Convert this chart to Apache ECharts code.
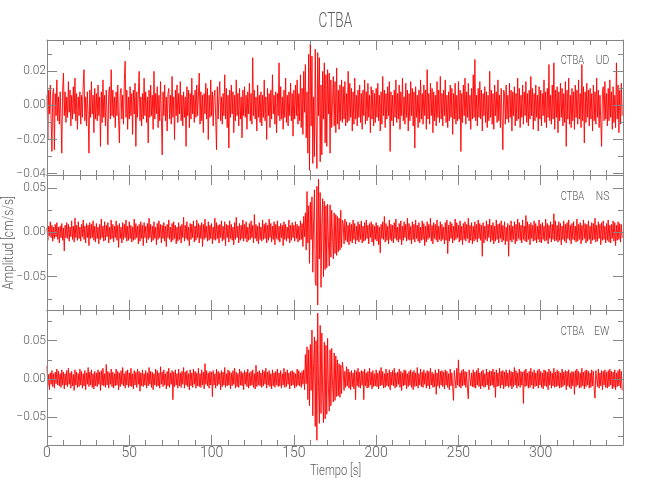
<!DOCTYPE html>
<html><head><meta charset="utf-8">
<script src="https://cdn.jsdelivr.net/npm/echarts@6/dist/echarts.min.js"></script>
<style>html,body{margin:0;padding:0;background:#fff}#c{width:650px;height:500px}</style>
</head><body><div id="c"></div>
<script>
const titleText = 'CTBA';
const stationName = 'CTBA';
const componentNames = ['UD', 'NS', 'EW'];
const xAxisTitle = 'Tiempo [s]';
const yAxisTitle = 'Amplitud [cm/s/s]';
const DT = 0.5;        // seconds between samples
const UNIT = 0.001;    // stored values are in 0.001 cm/s/s

const udMilli = [
6,-20,9,-5,12,-8,-27,7,10,-26,7,-6,15,-9,5,-11,8,-7,-28,9,
19,-6,8,-10,5,-7,14,-4,9,-12,6,-8,11,-5,16,-9,7,-14,5,-6,
8,-11,6,-7,12,21,-9,5,-12,8,-6,-28,9,-7,14,-5,6,-16,10,-8,
7,-9,12,-6,5,-24,8,-10,15,-7,6,-12,9,-5,-23,7,11,-8,21,-6,
9,-7,5,-13,8,-6,12,-9,-22,7,10,-8,6,-11,15,26,-7,9,-14,5,
-8,11,-6,7,-17,9,-5,13,-24,8,-7,6,20,-9,5,-12,7,-8,16,-6,
8,-10,5,-22,9,-7,12,-6,6,-14,20,-8,7,-5,11,-13,6,-9,14,-7,
-29,8,-6,12,-9,5,-15,7,10,-8,6,-11,17,-7,5,-20,9,-6,12,-10,
7,-5,14,-9,6,-12,8,-7,5,-24,11,-6,9,-13,7,-8,16,-5,6,-10,
9,-7,12,-6,5,19,-11,8,-9,6,-16,7,-5,13,-8,10,-20,6,-7,15,
-6,8,-12,5,9,-7,-26,11,-8,6,14,-9,5,-11,7,-6,18,-8,10,-13,
6,-25,9,-7,12,-5,8,-16,6,-9,15,-6,7,-12,10,-8,5,-19,9,-6,
11,-7,6,-14,8,-5,13,-9,7,-11,28,-6,9,-8,5,-15,12,-7,6,-10,
8,-12,6,-7,15,-9,5,-20,10,-6,7,-13,9,-8,18,-5,6,-11,8,-16,
7,-6,25,-9,11,-8,5,-14,9,-7,16,-10,6,-12,8,-6,13,-9,7,-18,
9,-8,12,-6,15,-11,7,-9,18,-13,10,-17,20,-4,24,-19,8,-28,30,-38,
36,-12,29,-34,5,-30,33,-9,-37,31,-6,28,-33,12,-29,20,-8,25,-22,18,
-24,21,-5,19,-28,15,-13,4,17,-12,14,-16,22,-11,9,-14,12,-9,15,-10,
11,-8,14,-12,7,-10,20,-9,13,-7,10,-15,8,-11,16,-8,6,-12,9,-7,
12,-10,7,-14,9,-6,15,-11,8,-9,13,-7,6,-16,11,-8,9,-12,7,-10,
10,-7,13,-9,6,-15,8,-11,17,-6,9,-13,7,-8,11,-6,14,-27,8,-9,
6,-12,9,-7,15,-10,7,-8,12,-14,8,-6,16,-9,5,-11,13,-7,9,-15,
7,-9,14,-6,10,-12,8,-25,11,-7,6,-13,9,-10,15,-8,7,-11,12,-6,
9,-14,21,-8,7,-11,13,-6,10,-16,8,-9,6,-12,14,-7,9,-10,17,-8,
7,-12,9,-6,15,-10,6,-13,8,-9,12,-7,10,-17,7,-8,13,-11,6,-9,
14,-8,9,-27,7,-10,12,-6,16,-11,8,-7,13,-9,6,-14,10,-8,18,-7,
27,-9,6,-12,10,-7,14,-8,9,-15,7,-6,11,-10,8,-13,6,-9,20,-7,
9,-11,7,-14,12,-6,8,-10,15,-9,6,-13,10,-7,-26,9,7,-11,12,-8,
6,-10,13,-7,9,-15,8,-6,11,-12,7,-9,16,-8,10,-13,6,-7,12,-11,
8,-6,14,-10,7,-12,9,-8,17,-6,10,-14,7,-9,12,-7,6,-15,11,-8,
9,-12,7,-6,15,-10,8,-13,10,-7,24,-9,6,-11,12,-8,25,-14,9,-7,
11,-16,8,-9,13,-7,10,-12,7,-10,14,-24,9,-8,16,-11,6,-13,10,-9,
8,-14,12,-7,9,-11,15,-8,7,-13,24,-9,11,-22,8,-10,13,-7,9,-12,
10,-8,7,-15,12,-9,8,-11,16,-7,9,-13,6,-10,-24,8,11,-9,14,-8,
7,-12,10,-9,15,-7,8,-14,11,-10,6,-13,25,-8,12,-16,9,-11,13,-6
];

const nsMilli = [
5,-9,7,-4,12,-6,8,-10,6,-7,9,-5,11,-8,6,-12,7,-6,10,-9,
5,-21,8,-6,11,-7,9,-10,6,-5,13,-8,7,-11,16,-6,8,-9,12,-7,
6,-10,9,-5,14,-8,7,-12,10,-6,8,-15,11,-7,9,-6,13,-9,7,-11,
10,-7,6,-13,9,-8,15,-6,7,-10,12,-9,8,-5,11,-12,6,-8,14,-7,
9,-11,7,-6,13,-9,8,-17,10,-7,6,-12,11,-8,9,-6,14,-10,7,-9,
12,-7,8,-11,6,-9,15,-8,10,-6,7,-13,9,-10,12,-7,8,-15,11,-6,
7,-12,10,-8,16,-6,9,-11,7,-9,12,-7,6,-14,10,-8,13,-6,9,-12,
8,-7,11,-10,7,-16,9,-6,14,-8,6,-11,10,-9,12,-7,8,-13,6,-10,
11,-8,7,-12,9,-6,17,-10,8,-7,12,-9,6,-15,10,-8,9,-6,13,-11,
7,-9,14,-6,10,-12,8,-7,11,-16,9,-8,15,-6,7,-10,12,-9,8,-7,
10,-13,6,-8,16,-9,11,-7,8,-12,9,-6,13,-10,7,-8,12,-15,9,-6,
8,-11,13,-7,9,-9,6,-14,11,-8,17,-6,7,-12,10,-9,8,-7,14,-10,
9,-7,12,-11,6,-9,10,-8,13,-6,8,-12,20,-7,9,-10,7,-13,11,-8,
6,-10,14,-8,9,-7,11,-12,8,-9,15,-6,10,-11,7,-8,12,-14,9,-7,
13,-9,7,-11,10,-6,8,-15,12,-8,9,-10,6,-7,14,-12,8,-9,11,-6,
8,-10,12,-7,9,-11,7,-9,13,-8,10,-16,18,-5,22,-20,46,-12,30,-35,
34,-8,40,-45,12,48,-55,-60,52,-82,60,-30,45,-62,10,38,-50,35,-42,30,
-40,32,-10,-38,31,-28,25,-5,-30,22,-24,20,-26,18,-22,16,-20,25,-17,14,
10,-13,15,-9,12,-11,8,-14,11,-10,9,-12,14,-8,10,-13,7,-9,12,-11,
9,-8,13,-12,7,-10,11,-9,14,-7,8,-13,10,-6,12,-11,9,-15,7,-8,
11,-10,8,-14,6,-23,9,-7,12,-8,18,-11,10,-9,7,-13,14,-8,9,-10,
8,-12,11,-7,15,-9,6,-11,10,-8,13,-14,7,-9,12,-6,9,-10,16,-8,
10,-9,7,-13,12,-8,9,-11,14,-7,8,-10,11,-12,6,-9,13,-8,10,-15,
7,-11,12,-8,9,-6,16,-10,8,-13,11,-7,9,-9,14,-11,7,-8,12,-10,
9,-8,6,-13,11,-9,14,-24,8,-10,12,-7,10,-12,7,-9,15,-8,11,-6,
8,-11,13,-9,7,-14,10,-8,12,-10,9,-7,16,-12,8,-9,11,-13,7,-10,
12,-8,9,-11,14,-7,10,-9,8,-27,11,-12,7,-8,13,-10,9,-6,15,-11,
8,-9,11,-13,7,-10,14,-8,9,-12,10,-7,13,-11,8,-9,12,-14,6,-10,
10,-27,8,-9,13,-11,7,-8,12,-13,9,-10,15,-7,11,-9,8,-12,14,-8,
7,-10,19,-11,12,-8,9,-14,11,-7,8,-10,13,-9,10,-12,7,-8,14,-11,
9,-12,11,-8,7,-10,15,-9,10,-13,8,-7,12,-11,9,-8,21,-10,13,-9,
8,-11,12,-9,10,-14,7,-8,13,-10,9,-12,11,-7,14,-9,8,-13,10,-8,
12,-9,7,-11,15,-10,9,-8,11,-13,8,-9,14,-7,10,-12,9,-10,13,-8,
7,-13,11,-9,10,-8,16,-11,8,-10,12,-7,9,-14,11,-9,13,-8,7,-12,
10,-9,14,-11,8,-12,9,-7,13,-10,11,-15,8,-9,12,-8,10,-11,9,-6
];

const ewMilli = [
17,-9,6,-14,8,-7,11,-10,7,-12,9,-6,13,-8,10,-9,7,-11,12,-8,
9,-13,7,-8,11,-10,14,-7,8,-12,10,-9,6,-15,12,-8,9,-11,7,-10,
13,-8,10,-12,7,-9,11,-14,8,-7,15,-10,9,-8,12,-11,7,-13,10,-9,
8,-10,12,-7,9,-15,11,-8,14,-9,7,-11,19,-8,10,-12,8,-7,13,-10,
9,-12,7,-9,13,-8,10,-14,8,-10,11,-7,15,-9,7,-12,10,-8,12,-11,
8,-9,14,-10,7,-13,11,-8,9,-11,13,-7,10,-16,8,-9,12,-10,7,-8,
11,-12,8,-9,15,-7,10,-11,9,-14,7,-8,13,-10,11,-9,8,-12,16,-7,
9,-10,12,-8,7,-13,10,-9,14,-11,8,-7,11,-27,9,-10,12,-8,7,-12,
13,-9,8,-11,10,-7,15,-12,9,-8,11,-10,7,-14,12,-9,8,-11,13,-7,
10,-12,8,-9,14,-10,7,-11,12,-8,9,-13,20,-7,11,-9,8,-12,10,-8,
9,-23,11,-8,7,-12,13,-9,10,-7,8,-14,11,-10,9,-8,15,-11,7,-9,
12,-8,10,-13,8,-9,11,-7,14,-12,9,-10,7,-11,13,-8,10,-9,8,-14,
11,-7,9,-10,13,-12,8,-9,10,-8,12,-11,7,-13,18,-10,9,-8,11,-9,
8,-11,12,-9,10,-7,14,-12,9,-8,11,-10,7,-13,12,-9,8,-11,10,-8,
13,-10,8,-9,11,-12,7,-8,14,-11,9,-10,12,-7,8,-13,10,-9,11,-8,
9,-12,7,-10,13,-8,11,-9,8,-11,10,-7,12,-14,32,-6,42,-27,38,-35,
45,-15,64,-48,20,55,-62,50,-80,86,-10,-58,70,-45,60,-20,-57,48,-52,44,
-46,53,-12,-42,38,-35,40,-8,-30,34,-28,30,-23,25,-22,20,-24,18,-19,22,
12,-15,10,-11,16,-9,13,-12,9,-14,11,-10,8,-13,12,-27,10,-9,14,-11,
9,-12,11,-8,10,-27,13,-9,8,-12,10,-11,14,-8,9,-13,11,-10,7,-9,
12,-10,8,-13,11,-9,15,-8,10,-12,7,-11,13,-9,8,-10,12,-14,9,-8,
11,-9,14,-12,8,-10,9,-7,13,-11,10,-15,8,-9,12,-8,11,-13,7,-10,
10,-8,12,-11,9,-14,11,-10,8,-9,15,-12,7,-8,13,-10,9,-11,12,-7,
8,-12,11,-9,10,-13,14,-8,9,-11,7,-10,12,-20,8,-9,13,-12,10,-8,
11,-10,9,-13,12,-8,10,-11,7,-14,13,-9,8,-10,-28,11,9,-12,14,-8,
25,-10,8,-12,11,-9,13,-8,10,-11,9,-13,-26,12,10,-9,8,-10,12,-11,
9,-12,11,-8,14,-10,8,-13,10,-9,12,-11,7,-10,13,-8,9,-14,11,-9,
10,-8,13,-11,9,-24,12,-10,8,-9,14,-12,10,-8,11,-13,9,-10,12,-9,
8,-11,12,-9,10,-13,9,-10,15,-8,11,-12,8,-9,13,-11,10,-8,9,-32,
11,-10,13,-9,8,-12,10,-11,14,-8,9,-13,12,-10,8,-9,11,-12,13,-8,
10,-11,8,-13,12,-9,11,-10,9,-14,13,-8,10,-12,8,-9,14,-11,9,-10,
12,-9,10,-12,8,-11,13,-10,9,-8,11,-14,10,-9,12,-11,8,-13,10,-9,
9,-20,11,-10,13,-8,10,-12,8,-11,14,-9,9,-13,11,-10,12,-8,10,-12,
8,-11,12,-9,10,-13,-25,11,9,-10,13,-12,8,-9,11,-14,10,-8,12,-11,
9,-12,11,-10,13,-8,10,-13,9,-11,12,-14,8,-10,11,-9,13,-12,10,-15
];

const xRange = [0, 350];
const xTickStep = 50;
const xMinorSplit = 5;
const yRanges = [[-0.0408, 0.0384], [-0.0876, 0.0647], [-0.0862, 0.0901]];
const yMajorTicks = [[-0.04, -0.02, 0, 0.02], [-0.05, 0, 0.05], [-0.05, 0, 0.05]];
const yMinorTicks = [[-0.03, -0.01, 0.01, 0.03], [-0.075, -0.025, 0.025], [-0.075, -0.025, 0.025, 0.075]];

const traces = [udMilli, nsMilli, ewMilli];

const axisColor = '#858585';
const textColor = '#5a5a5a';
const fontFam = 'Roboto';
const PLOT_L = 47, PLOT_R = 27, PLOT_T = 40, PANEL_H = 135;

const fmtY = v => {
  const s = Math.abs(v).toFixed(2);
  return v < -1e-9 ? '\u2212' + s : s;
};

const grids = [], xAxes = [], yAxes = [], series = [];
for (let i = 0; i < 3; i++) {
  grids.push({ left: PLOT_L, right: PLOT_R, top: PLOT_T + i * PANEL_H, height: PANEL_H, outerBoundsMode: 'none' });
  const mkX = (pos, showLabel) => ({
    type: 'value', gridIndex: i, position: pos, min: xRange[0], max: xRange[1], interval: xTickStep, z: 10,
    axisLine: { show: true, onZero: false, lineStyle: { color: axisColor, width: 1 } },
    axisTick: { show: true, inside: true, length: 10, lineStyle: { color: axisColor } },
    minorTick: { show: true, splitNumber: xMinorSplit, length: 5, lineStyle: { color: axisColor } },
    splitLine: { show: false }, minorSplitLine: { show: false },
    axisLabel: { show: showLabel, showMaxLabel: false, margin: 1, color: textColor, fontSize: 14, fontFamily: fontFam, fontWeight: 300 }
  });
  xAxes.push(mkX('bottom', i === 2));
  xAxes.push(mkX('top', false));
  const [ymin, ymax] = yRanges[i];
  const mkYMajor = (pos, showLabel) => ({
    type: 'value', gridIndex: i, position: pos, min: ymin, max: ymax, z: 10,
    axisLine: { show: true, onZero: false, lineStyle: { color: axisColor, width: 1 } },
    axisTick: { show: true, inside: true, length: 10, customValues: yMajorTicks[i], lineStyle: { color: axisColor } },
    axisLabel: { show: showLabel, customValues: yMajorTicks[i], formatter: fmtY, margin: 1, color: textColor, fontSize: 12, fontFamily: fontFam, fontWeight: 300 },
    splitLine: { show: false }
  });
  const mkYMinor = pos => ({
    type: 'value', gridIndex: i, position: pos, min: ymin, max: ymax, z: 10,
    axisLine: { show: false, onZero: false },
    axisTick: { show: true, inside: true, length: 5, customValues: yMinorTicks[i], lineStyle: { color: axisColor } },
    axisLabel: { show: false },
    splitLine: { show: false }
  });
  yAxes.push(mkYMajor('left', true));
  yAxes.push(mkYMinor('left'));
  yAxes.push(mkYMajor('right', false));
  yAxes.push(mkYMinor('right'));
  series.push({
    type: 'line', xAxisIndex: i * 2, yAxisIndex: i * 4, symbol: 'none', showSymbol: false,
    sampling: null, animation: false, silent: true,
    lineStyle: { color: '#ff0000', width: 0.9 },
    data: traces[i].map((v, k) => [k * DT, v * UNIT])
  });
}

const graphics = [
  { type: 'text', x: 335.4, y: 22, scaleX: 0.68, style: { text: titleText, fill: textColor, font: '300 20px Roboto', textAlign: 'center', textVerticalAlign: 'middle' } },
  { type: 'text', x: 335.5, y: 471, scaleX: 0.8, style: { text: xAxisTitle, fill: textColor, font: '300 14px Roboto', textAlign: 'center', textVerticalAlign: 'middle' } },
  { type: 'text', x: 9, y: 243, rotation: Math.PI / 2, scaleX: 0.85, style: { text: yAxisTitle, fill: textColor, font: '300 14px Roboto', textAlign: 'center', textVerticalAlign: 'middle' } }
];
const labelY = [61.2, 196.3, 331.3];
for (let i = 0; i < 3; i++) {
  graphics.push({ type: 'text', x: 584, y: labelY[i], scaleX: 0.72, style: { text: stationName, fill: textColor, font: '300 13px Roboto', textAlign: 'right', textVerticalAlign: 'middle' } });
  graphics.push({ type: 'text', x: 609.3, y: labelY[i], scaleX: 0.8, style: { text: componentNames[i], fill: textColor, font: '300 13px Roboto', textAlign: 'right', textVerticalAlign: 'middle' } });
}

const chart = echarts.init(document.getElementById('c'), null, { renderer: 'canvas' });
chart.setOption({
  animation: false,
  backgroundColor: '#ffffff',
  grid: grids,
  xAxis: xAxes,
  yAxis: yAxes,
  series: series,
  graphic: graphics
});
</script>
</body></html>
